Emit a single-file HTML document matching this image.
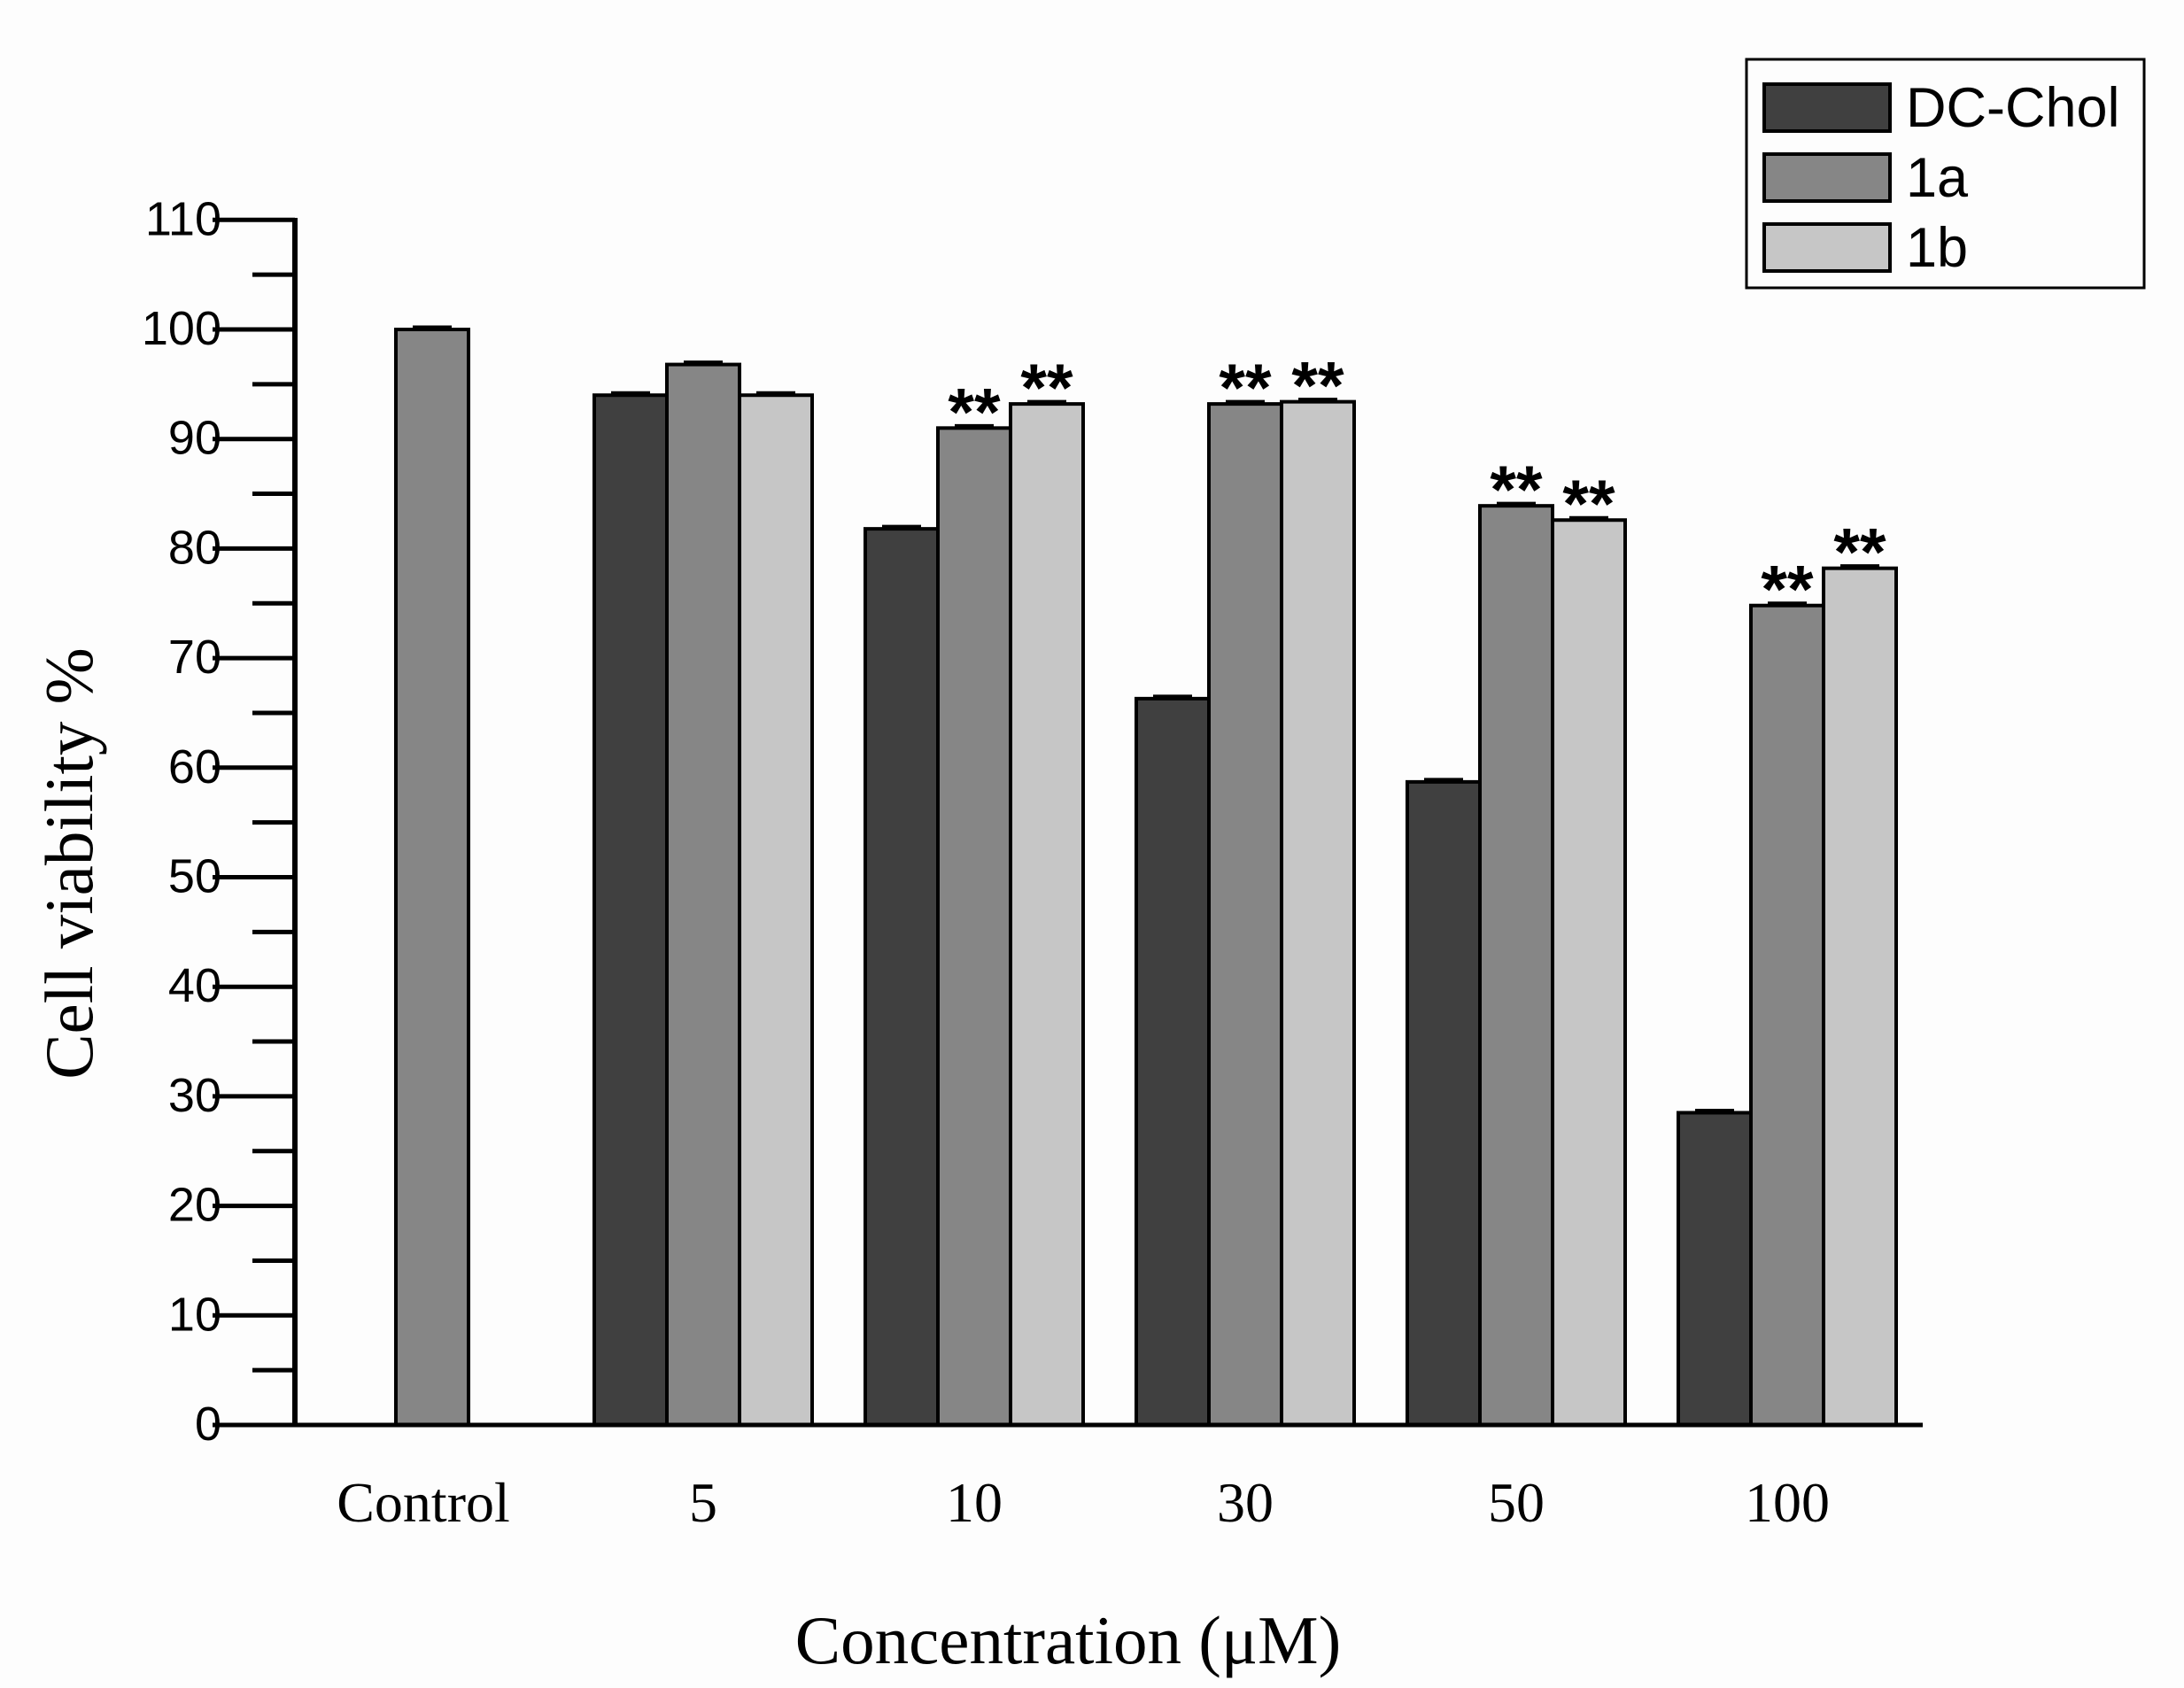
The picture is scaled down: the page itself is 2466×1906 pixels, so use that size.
<!DOCTYPE html>
<html><head><meta charset="utf-8"><style>
html,body{margin:0;padding:0;background:#fdfdfd;}
svg{display:block;}
</style></head><body>
<svg id="chart" xmlns="http://www.w3.org/2000/svg" width="2466" height="1906" viewBox="0 0 2466 1906">
<rect width="2466" height="1906" fill="#fdfdfd"/>
<g id="bars"></g>
<g id="axes"></g>
<text transform="translate(104,975) rotate(-90)" text-anchor="middle" font-family="Liberation Serif, serif" font-size="77">Cell viability %</text>
<text x="1206" y="1878" text-anchor="middle" font-family="Liberation Serif, serif" font-size="77">Concentration (μM)</text>
<g>
<rect x="1972" y="67" width="449" height="258" fill="none" stroke="#000" stroke-width="3"/>
<rect x="1992" y="95" width="142" height="53" fill="#404040" stroke="#000" stroke-width="4"/>
<text x="2152" y="143" font-family="Liberation Sans, sans-serif" font-size="63">DC-Chol</text>
<rect x="1992" y="174" width="142" height="53" fill="#868686" stroke="#000" stroke-width="4"/>
<text x="2152" y="222" font-family="Liberation Sans, sans-serif" font-size="63">1a</text>
<rect x="1992" y="253" width="142" height="53" fill="#c6c6c6" stroke="#000" stroke-width="4"/>
<text x="2152" y="301" font-family="Liberation Sans, sans-serif" font-size="63">1b</text>
</g>
</svg>
<script>
const categories = ["Control","5","10","30","50","100"];
const dcChol = [null,94,81.8,66.3,58.7,28.5];
const s1a = [100,96.8,91,93.2,83.9,74.8];
const s1b = [null,94,93.2,93.4,82.6,78.2];
const sig1a = [false,false,true,true,true,true];
const sig1b = [false,false,true,true,true,true];
const yTicks = [0,10,20,30,40,50,60,70,80,90,100,110];

const NS="http://www.w3.org/2000/svg";
const y0=1609, yPer=123.7/10;
const yScale=v=>y0-v*yPer;
const cx0=488, gap=306, bw=82;
const xCenter=i=>cx0+i*gap;
const bars=document.getElementById('bars');
const axes=document.getElementById('axes');
function mk(tag,attrs,parent){const e=document.createElementNS(NS,tag);for(const k in attrs)e.setAttribute(k,attrs[k]);parent.appendChild(e);return e;}
const series=[{d:dcChol,c:"#404040",n:"dc-chol",sig:null},{d:s1a,c:"#868686",n:"1a",sig:sig1a},{d:s1b,c:"#c6c6c6",n:"1b",sig:sig1b}];
categories.forEach((cat,i)=>{
  const present=series.filter(s=>s.d[i]!=null);
  const n=present.length;
  present.forEach((s,j)=>{
    const v=s.d[i];
    const x=xCenter(i)-n*bw/2+j*bw;
    const y=yScale(v);
    const r=mk('rect',{x:x,y:y,width:bw,height:y0-y,fill:s.c,stroke:'#000','stroke-width':4},bars);
    
    
    const eb=mk('line',{x1:x+bw/2-22,x2:x+bw/2+22,y1:y-3,y2:y-3,stroke:'#000','stroke-width':3},bars);
    
    
    if(s.sig&&s.sig[i]){
      const t=mk('text',{x:x+bw/2,y:y+8,'text-anchor':'middle','font-family':'Liberation Sans, sans-serif','font-size':76,'font-weight':'bold'},bars);
      t.textContent='**';
      
      
    }
  });
  const lbl=mk('text',{x:xCenter(i)-(i===0?10:0),y:1718,'text-anchor':'middle','font-family':'Liberation Serif, serif','font-size':64},axes);
  lbl.textContent=cat;
  
  
});
const ya=mk('line',{x1:333,x2:333,y1:246,y2:1611,stroke:'#000','stroke-width':6},axes);


const xa=mk('line',{x1:240,x2:2171,y1:1609,y2:1609,stroke:'#000','stroke-width':5},axes);


yTicks.forEach((v,k)=>{
  const y=yScale(v);
  const t=mk('line',{x1:240,x2:333,y1:y,y2:y,stroke:'#000','stroke-width':5},axes);
  
  
  const l=mk('text',{x:250,y:y+17,'text-anchor':'end','font-family':'Liberation Sans, sans-serif','font-size':54},axes);
  l.textContent=v;
  
  
  if(k<yTicks.length-1){
    const ym=yScale(v+5);
    const m=mk('line',{x1:285,x2:333,y1:ym,y2:ym,stroke:'#000','stroke-width':5},axes);
    
    
  }
});
</script>
</body></html>
